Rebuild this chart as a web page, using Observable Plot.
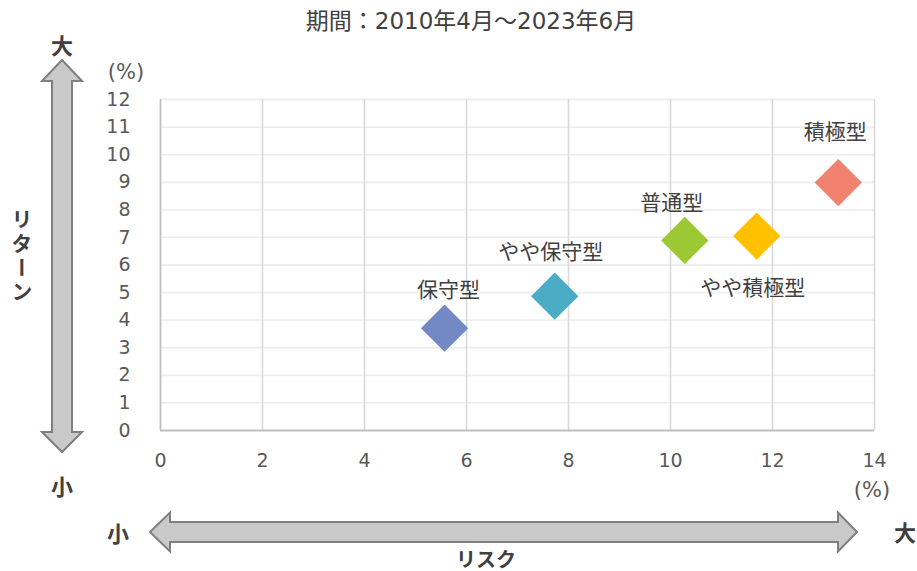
<!DOCTYPE html>
<html>
<head>
<meta charset="utf-8">
<script src="https://cdn.jsdelivr.net/npm/d3@7"></script>
<script src="https://cdn.jsdelivr.net/npm/@observablehq/plot@0.6"></script>
<style>
  html, body { margin: 0; padding: 0; background: #fff; }
  #chart { width: 917px; height: 571px; }
</style>
</head>
<body>
<div id="chart"></div>
<script>
// ---- data ----
const categories = ["保守型", "やや保守型", "普通型", "やや積極型", "積極型"];
const risk = [5.57, 7.73, 10.28, 11.69, 13.29];
const ret = [3.71, 4.87, 6.89, 7.05, 8.99];
const colors = ["#7389c6", "#4bacc6", "#9cc834", "#ffc000", "#f0826f"];
const xTicks = [0, 2, 4, 6, 8, 10, 12, 14];
const yTicks = [0, 1, 2, 3, 4, 5, 6, 7, 8, 9, 10, 11, 12];
const title = "期間：2010年4月～2023年6月";

// label offsets (layout only)
const labelOffset = {
  "保守型": [4, -38],
  "やや保守型": [-4, -44],
  "普通型": [-13, -37],
  "やや積極型": [-4, 52],
  "積極型": [-3, -50]
};

const FONT = "'DejaVu Sans','Noto Sans CJK JP',sans-serif";
const JFONT = "'Noto Sans CJK JP','DejaVu Sans',sans-serif";

function decor(index, scales, values, dim) {
  const g = d3.create("svg:g");
  const fill = "#c9c9c9", stroke = "#7f7f7f";
  // vertical double arrow
  const cx = 62, sw = 10, hw = 20, t = 60, tb = 81, b = 452, bb = 432;
  g.append("path")
    .attr("d", `M${cx},${t} L${cx + hw},${tb} L${cx + sw},${tb} L${cx + sw},${bb} L${cx + hw},${bb} L${cx},${b} L${cx - hw},${bb} L${cx - sw},${bb} L${cx - sw},${tb} L${cx - hw},${tb} Z`)
    .attr("fill", fill).attr("stroke", stroke).attr("stroke-width", 2);
  // horizontal double arrow
  const cy = 532, sh = 10, hh = 19.5, l = 150, lb = 170, r = 857, rb = 838;
  g.append("path")
    .attr("d", `M${l},${cy} L${lb},${cy - hh} L${lb},${cy - sh} L${rb},${cy - sh} L${rb},${cy - hh} L${r},${cy} L${rb},${cy + hh} L${rb},${cy + sh} L${lb},${cy + sh} L${lb},${cy + hh} Z`)
    .attr("fill", fill).attr("stroke", stroke).attr("stroke-width", 2);

  const txt = (x, y, s, size, weight, color, anchor = "middle", font = JFONT) =>
    g.append("text").attr("x", x).attr("y", y).attr("text-anchor", anchor)
      .attr("dominant-baseline", "central")
      .attr("font-family", font).attr("font-size", size).attr("font-weight", weight)
      .attr("fill", color).text(s);

  const dark = "#404040";
  txt(62, 44, "大", 22, "bold", dark);
  txt(62, 485, "小", 22, "bold", dark);
  txt(118, 532, "小", 22, "bold", dark);
  txt(905, 531, "大", 22, "bold", dark);
  txt(486, 558, "リスク", 20, "bold", dark);

  // vertical リターン (single text, vertical writing mode)
  g.append("text")
    .attr("x", 22).attr("y", 257)
    .attr("text-anchor", "middle")
    .attr("font-family", JFONT).attr("font-size", 21).attr("font-weight", "bold")
    .attr("fill", dark)
    .style("writing-mode", "vertical-rl")
    .style("letter-spacing", "3px")
    .text("リターン");

  // unit labels
  txt(126, 72, "(%)", 21, "normal", "#595959", "middle", FONT);
  txt(872, 490, "(%)", 21, "normal", "#595959", "middle", FONT);

  // title
  txt(471, 21, title, 23, "normal", "#404040", "middle", FONT);
  return g.node();
}

const chart = Plot.plot({
  width: 917,
  height: 571,
  marginLeft: 160,
  marginRight: 43,
  marginTop: 99,
  marginBottom: 141,
  x: { domain: [0, 14] },
  y: { domain: [0, 12] },
  style: { fontFamily: FONT, background: "#fff" },
  marks: [
    Plot.ruleY(yTicks.slice(1), { stroke: "#eeeeee", strokeWidth: 1.8 }),
    Plot.ruleX(xTicks.slice(1), { stroke: "#d9d9d9", strokeWidth: 1.6 }),
    Plot.ruleX([0], { stroke: "#bfbfbf", strokeWidth: 1.8 }),
    Plot.ruleY([0], { stroke: "#bfbfbf", strokeWidth: 1.8 }),
    Plot.axisY({ ticks: yTicks, tickSize: 0, tickPadding: 30, fontSize: 19, fill: "#595959", label: null }),
    Plot.axisX({ ticks: xTicks, tickSize: 0, tickPadding: 23, fontSize: 19, fill: "#595959", label: null }),
    Plot.dot(categories.map((c, i) => i), {
      x: i => risk[i], y: i => ret[i], fill: i => colors[i],
      symbol: "diamond2", r: 21.3, stroke: null
    }),
    ...categories.map((c, i) => Plot.text([i], {
      x: i => risk[i], y: i => ret[i], text: i => categories[i],
      dx: labelOffset[c][0], dy: labelOffset[c][1],
      fontSize: 21, fill: "#404040", fontFamily: JFONT
    })),
    decor
  ]
});
chart.style.display = "block";
document.getElementById("chart").appendChild(chart);
</script>
</body>
</html>
